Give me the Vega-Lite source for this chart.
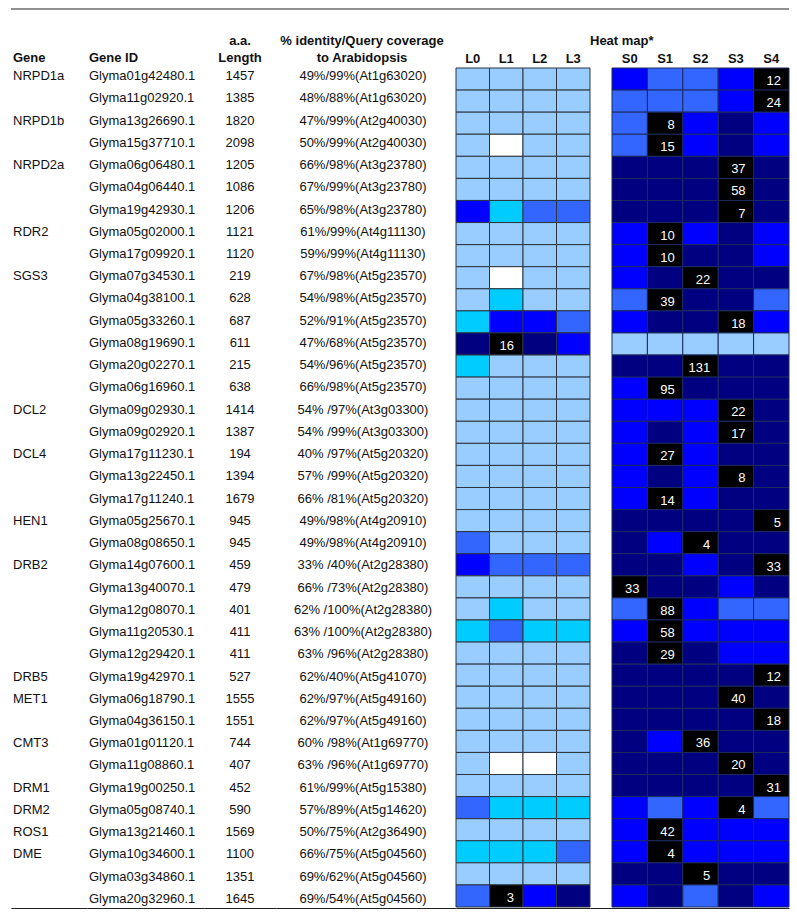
{
  "$schema": "https://vega.github.io/schema/vega-lite/v6.json",
  "padding": {"left": 10, "top": 8, "right": 9, "bottom": 0},
  "background": "white",
  "config": {
    "view": {"stroke": null},
    "font": "Liberation Sans",
    "title": {"font": "Liberation Sans", "fontSize": 13, "fontWeight": "bold", "color": "#111111", "lineHeight": 17, "offset": 3, "frame": "group"}
  },
  "datasets": {
    "genes": [
      {"row": 0, "gene": "NRPD1a", "id": "Glyma01g42480.1", "len": "1457", "ident": "49%/99%(At1g63020)"},
      {"row": 1, "gene": "", "id": "Glyma11g02920.1", "len": "1385", "ident": "48%/88%(At1g63020)"},
      {"row": 2, "gene": "NRPD1b", "id": "Glyma13g26690.1", "len": "1820", "ident": "47%/99%(At2g40030)"},
      {"row": 3, "gene": "", "id": "Glyma15g37710.1", "len": "2098", "ident": "50%/99%(At2g40030)"},
      {"row": 4, "gene": "NRPD2a", "id": "Glyma06g06480.1", "len": "1205", "ident": "66%/98%(At3g23780)"},
      {"row": 5, "gene": "", "id": "Glyma04g06440.1", "len": "1086", "ident": "67%/99%(At3g23780)"},
      {"row": 6, "gene": "", "id": "Glyma19g42930.1", "len": "1206", "ident": "65%/98%(At3g23780)"},
      {"row": 7, "gene": "RDR2", "id": "Glyma05g02000.1", "len": "1121", "ident": "61%/99%(At4g11130)"},
      {"row": 8, "gene": "", "id": "Glyma17g09920.1", "len": "1120", "ident": "59%/99%(At4g11130)"},
      {"row": 9, "gene": "SGS3", "id": "Glyma07g34530.1", "len": "219", "ident": "67%/98%(At5g23570)"},
      {"row": 10, "gene": "", "id": "Glyma04g38100.1", "len": "628", "ident": "54%/98%(At5g23570)"},
      {"row": 11, "gene": "", "id": "Glyma05g33260.1", "len": "687", "ident": "52%/91%(At5g23570)"},
      {"row": 12, "gene": "", "id": "Glyma08g19690.1", "len": "611", "ident": "47%/68%(At5g23570)"},
      {"row": 13, "gene": "", "id": "Glyma20g02270.1", "len": "215", "ident": "54%/96%(At5g23570)"},
      {"row": 14, "gene": "", "id": "Glyma06g16960.1", "len": "638", "ident": "66%/98%(At5g23570)"},
      {"row": 15, "gene": "DCL2", "id": "Glyma09g02930.1", "len": "1414", "ident": "54% /97%(At3g03300)"},
      {"row": 16, "gene": "", "id": "Glyma09g02920.1", "len": "1387", "ident": "54% /99%(At3g03300)"},
      {"row": 17, "gene": "DCL4", "id": "Glyma17g11230.1", "len": "194", "ident": "40% /97%(At5g20320)"},
      {"row": 18, "gene": "", "id": "Glyma13g22450.1", "len": "1394", "ident": "57% /99%(At5g20320)"},
      {"row": 19, "gene": "", "id": "Glyma17g11240.1", "len": "1679", "ident": "66% /81%(At5g20320)"},
      {"row": 20, "gene": "HEN1", "id": "Glyma05g25670.1", "len": "945", "ident": "49%/98%(At4g20910)"},
      {"row": 21, "gene": "", "id": "Glyma08g08650.1", "len": "945", "ident": "49%/98%(At4g20910)"},
      {"row": 22, "gene": "DRB2", "id": "Glyma14g07600.1", "len": "459", "ident": "33% /40%(At2g28380)"},
      {"row": 23, "gene": "", "id": "Glyma13g40070.1", "len": "479", "ident": "66% /73%(At2g28380)"},
      {"row": 24, "gene": "", "id": "Glyma12g08070.1", "len": "401", "ident": "62% /100%(At2g28380)"},
      {"row": 25, "gene": "", "id": "Glyma11g20530.1", "len": "411", "ident": "63% /100%(At2g28380)"},
      {"row": 26, "gene": "", "id": "Glyma12g29420.1", "len": "411", "ident": "63% /96%(At2g28380)"},
      {"row": 27, "gene": "DRB5", "id": "Glyma19g42970.1", "len": "527", "ident": "62%/40%(At5g41070)"},
      {"row": 28, "gene": "MET1", "id": "Glyma06g18790.1", "len": "1555", "ident": "62%/97%(At5g49160)"},
      {"row": 29, "gene": "", "id": "Glyma04g36150.1", "len": "1551", "ident": "62%/97%(At5g49160)"},
      {"row": 30, "gene": "CMT3", "id": "Glyma01g01120.1", "len": "744", "ident": "60% /98%(At1g69770)"},
      {"row": 31, "gene": "", "id": "Glyma11g08860.1", "len": "407", "ident": "63% /96%(At1g69770)"},
      {"row": 32, "gene": "DRM1", "id": "Glyma19g00250.1", "len": "452", "ident": "61%/99%(At5g15380)"},
      {"row": 33, "gene": "DRM2", "id": "Glyma05g08740.1", "len": "590", "ident": "57%/89%(At5g14620)"},
      {"row": 34, "gene": "ROS1", "id": "Glyma13g21460.1", "len": "1569", "ident": "50%/75%(At2g36490)"},
      {"row": 35, "gene": "DME", "id": "Glyma10g34600.1", "len": "1100", "ident": "66%/75%(At5g04560)"},
      {"row": 36, "gene": "", "id": "Glyma03g34860.1", "len": "1351", "ident": "69%/62%(At5g04560)"},
      {"row": 37, "gene": "", "id": "Glyma20g32960.1", "len": "1645", "ident": "69%/54%(At5g04560)"}
    ],
    "heatL": [
      {"row": 0, "L0": 1, "L1": 1, "L2": 1, "L3": 1},
      {"row": 1, "L0": 1, "L1": 1, "L2": 1, "L3": 1},
      {"row": 2, "L0": 1, "L1": 1, "L2": 1, "L3": 1},
      {"row": 3, "L0": 1, "L1": 0, "L2": 1, "L3": 1},
      {"row": 4, "L0": 1, "L1": 1, "L2": 1, "L3": 1},
      {"row": 5, "L0": 1, "L1": 1, "L2": 1, "L3": 1},
      {"row": 6, "L0": 4, "L1": 2, "L2": 3, "L3": 3},
      {"row": 7, "L0": 1, "L1": 1, "L2": 1, "L3": 1},
      {"row": 8, "L0": 1, "L1": 1, "L2": 1, "L3": 1},
      {"row": 9, "L0": 1, "L1": 0, "L2": 1, "L3": 1},
      {"row": 10, "L0": 1, "L1": 2, "L2": 1, "L3": 1},
      {"row": 11, "L0": 2, "L1": 4, "L2": 4, "L3": 3},
      {"row": 12, "L0": 5, "L1": 6, "L2": 5, "L3": 4},
      {"row": 13, "L0": 2, "L1": 1, "L2": 1, "L3": 1},
      {"row": 14, "L0": 1, "L1": 1, "L2": 1, "L3": 1},
      {"row": 15, "L0": 1, "L1": 1, "L2": 1, "L3": 1},
      {"row": 16, "L0": 1, "L1": 1, "L2": 1, "L3": 1},
      {"row": 17, "L0": 1, "L1": 1, "L2": 1, "L3": 1},
      {"row": 18, "L0": 1, "L1": 1, "L2": 1, "L3": 1},
      {"row": 19, "L0": 1, "L1": 1, "L2": 1, "L3": 1},
      {"row": 20, "L0": 1, "L1": 1, "L2": 1, "L3": 1},
      {"row": 21, "L0": 3, "L1": 1, "L2": 1, "L3": 1},
      {"row": 22, "L0": 4, "L1": 3, "L2": 3, "L3": 3},
      {"row": 23, "L0": 1, "L1": 1, "L2": 1, "L3": 1},
      {"row": 24, "L0": 1, "L1": 2, "L2": 1, "L3": 1},
      {"row": 25, "L0": 2, "L1": 3, "L2": 2, "L3": 2},
      {"row": 26, "L0": 1, "L1": 1, "L2": 1, "L3": 1},
      {"row": 27, "L0": 1, "L1": 1, "L2": 1, "L3": 1},
      {"row": 28, "L0": 1, "L1": 1, "L2": 1, "L3": 1},
      {"row": 29, "L0": 1, "L1": 1, "L2": 1, "L3": 1},
      {"row": 30, "L0": 1, "L1": 1, "L2": 1, "L3": 1},
      {"row": 31, "L0": 1, "L1": 0, "L2": 0, "L3": 1},
      {"row": 32, "L0": 1, "L1": 1, "L2": 1, "L3": 1},
      {"row": 33, "L0": 3, "L1": 2, "L2": 2, "L3": 2},
      {"row": 34, "L0": 1, "L1": 1, "L2": 1, "L3": 1},
      {"row": 35, "L0": 2, "L1": 2, "L2": 2, "L3": 3},
      {"row": 36, "L0": 1, "L1": 1, "L2": 1, "L3": 1},
      {"row": 37, "L0": 3, "L1": 6, "L2": 4, "L3": 5}
    ],
    "heatS": [
      {"row": 0, "S0": 4, "S1": 3, "S2": 3, "S3": 4, "S4": 6},
      {"row": 1, "S0": 3, "S1": 3, "S2": 3, "S3": 4, "S4": 6},
      {"row": 2, "S0": 3, "S1": 6, "S2": 4, "S3": 5, "S4": 4},
      {"row": 3, "S0": 3, "S1": 6, "S2": 4, "S3": 5, "S4": 4},
      {"row": 4, "S0": 5, "S1": 5, "S2": 5, "S3": 6, "S4": 5},
      {"row": 5, "S0": 5, "S1": 5, "S2": 5, "S3": 6, "S4": 5},
      {"row": 6, "S0": 5, "S1": 5, "S2": 5, "S3": 6, "S4": 5},
      {"row": 7, "S0": 4, "S1": 6, "S2": 4, "S3": 5, "S4": 4},
      {"row": 8, "S0": 4, "S1": 6, "S2": 5, "S3": 5, "S4": 4},
      {"row": 9, "S0": 4, "S1": 5, "S2": 6, "S3": 5, "S4": 5},
      {"row": 10, "S0": 3, "S1": 6, "S2": 5, "S3": 5, "S4": 3},
      {"row": 11, "S0": 4, "S1": 5, "S2": 5, "S3": 6, "S4": 4},
      {"row": 12, "S0": 1, "S1": 1, "S2": 1, "S3": 1, "S4": 1},
      {"row": 13, "S0": 5, "S1": 5, "S2": 6, "S3": 5, "S4": 5},
      {"row": 14, "S0": 4, "S1": 6, "S2": 5, "S3": 5, "S4": 5},
      {"row": 15, "S0": 4, "S1": 4, "S2": 4, "S3": 6, "S4": 5},
      {"row": 16, "S0": 4, "S1": 5, "S2": 4, "S3": 6, "S4": 5},
      {"row": 17, "S0": 4, "S1": 6, "S2": 4, "S3": 5, "S4": 5},
      {"row": 18, "S0": 4, "S1": 5, "S2": 4, "S3": 6, "S4": 5},
      {"row": 19, "S0": 4, "S1": 6, "S2": 4, "S3": 5, "S4": 5},
      {"row": 20, "S0": 5, "S1": 5, "S2": 5, "S3": 5, "S4": 6},
      {"row": 21, "S0": 5, "S1": 4, "S2": 6, "S3": 5, "S4": 5},
      {"row": 22, "S0": 5, "S1": 5, "S2": 4, "S3": 5, "S4": 6},
      {"row": 23, "S0": 6, "S1": 5, "S2": 5, "S3": 4, "S4": 5},
      {"row": 24, "S0": 3, "S1": 6, "S2": 4, "S3": 3, "S4": 3},
      {"row": 25, "S0": 4, "S1": 6, "S2": 4, "S3": 4, "S4": 4},
      {"row": 26, "S0": 5, "S1": 6, "S2": 5, "S3": 4, "S4": 4},
      {"row": 27, "S0": 5, "S1": 5, "S2": 5, "S3": 5, "S4": 6},
      {"row": 28, "S0": 5, "S1": 5, "S2": 5, "S3": 6, "S4": 5},
      {"row": 29, "S0": 5, "S1": 5, "S2": 5, "S3": 5, "S4": 6},
      {"row": 30, "S0": 5, "S1": 4, "S2": 6, "S3": 5, "S4": 5},
      {"row": 31, "S0": 5, "S1": 5, "S2": 5, "S3": 6, "S4": 5},
      {"row": 32, "S0": 5, "S1": 5, "S2": 5, "S3": 5, "S4": 6},
      {"row": 33, "S0": 4, "S1": 3, "S2": 4, "S3": 6, "S4": 3},
      {"row": 34, "S0": 4, "S1": 6, "S2": 4, "S3": 4, "S4": 4},
      {"row": 35, "S0": 4, "S1": 6, "S2": 4, "S3": 4, "S4": 4},
      {"row": 36, "S0": 5, "S1": 5, "S2": 6, "S3": 5, "S4": 5},
      {"row": 37, "S0": 4, "S1": 5, "S2": 3, "S3": 5, "S4": 4}
    ],
    "numsL": [
      {"row": 12, "col": "L1", "n": "16"},
      {"row": 37, "col": "L1", "n": "3"}
    ],
    "numsS": [
      {"row": 0, "col": "S4", "n": "12"},
      {"row": 1, "col": "S4", "n": "24"},
      {"row": 2, "col": "S1", "n": "8"},
      {"row": 3, "col": "S1", "n": "15"},
      {"row": 4, "col": "S3", "n": "37"},
      {"row": 5, "col": "S3", "n": "58"},
      {"row": 6, "col": "S3", "n": "7"},
      {"row": 7, "col": "S1", "n": "10"},
      {"row": 8, "col": "S1", "n": "10"},
      {"row": 9, "col": "S2", "n": "22"},
      {"row": 10, "col": "S1", "n": "39"},
      {"row": 11, "col": "S3", "n": "18"},
      {"row": 13, "col": "S2", "n": "131"},
      {"row": 14, "col": "S1", "n": "95"},
      {"row": 15, "col": "S3", "n": "22"},
      {"row": 16, "col": "S3", "n": "17"},
      {"row": 17, "col": "S1", "n": "27"},
      {"row": 18, "col": "S3", "n": "8"},
      {"row": 19, "col": "S1", "n": "14"},
      {"row": 20, "col": "S4", "n": "5"},
      {"row": 21, "col": "S2", "n": "4"},
      {"row": 22, "col": "S4", "n": "33"},
      {"row": 23, "col": "S0", "n": "33"},
      {"row": 24, "col": "S1", "n": "88"},
      {"row": 25, "col": "S1", "n": "58"},
      {"row": 26, "col": "S1", "n": "29"},
      {"row": 27, "col": "S4", "n": "12"},
      {"row": 28, "col": "S3", "n": "40"},
      {"row": 29, "col": "S4", "n": "18"},
      {"row": 30, "col": "S2", "n": "36"},
      {"row": 31, "col": "S3", "n": "20"},
      {"row": 32, "col": "S4", "n": "31"},
      {"row": 33, "col": "S3", "n": "4"},
      {"row": 34, "col": "S1", "n": "42"},
      {"row": 35, "col": "S1", "n": "4"},
      {"row": 36, "col": "S2", "n": "5"}
    ]
  },
  "spacing": 25,
  "vconcat": [
    {
      "width": 778,
      "height": 1,
      "data": {"values": [{}]},
      "mark": {"type": "rule", "color": "#222222", "strokeWidth": 1},
      "encoding": {
        "y": {"datum": 1, "type": "quantitative", "scale": {"domain": [0, 1]}, "axis": null}
      }
    },
    {
      "hconcat": [
        {
          "width": 76,
          "height": 845,
          "data": {"name": "genes"},
          "title": {"text": "Gene", "anchor": "start", "dx": 2},
          "mark": {"type": "text", "align": "left", "baseline": "middle", "dx": 2, "dy": -3, "fontSize": 13, "color": "#111111"},
          "encoding": {
            "y": {"field": "row", "type": "ordinal", "axis": null, "scale": {"type": "band", "paddingInner": 0, "paddingOuter": 0}},
            "x": {"datum": "Gene", "type": "nominal", "bandPosition": 0, "scale": {"type": "band", "paddingInner": 0, "paddingOuter": 0},
                  "axis": {"orient": "bottom", "labels": false, "ticks": false, "domain": true, "domainColor": "#222222", "domainWidth": 1, "offset": -5, "title": null}},
            "text": {"field": "gene", "type": "nominal"}
          }
        },
        {
          "width": 117,
          "height": 845,
          "data": {"name": "genes"},
          "title": {"text": "Gene ID", "anchor": "start", "dx": 2},
          "mark": {"type": "text", "align": "left", "baseline": "middle", "dx": 2, "dy": -3, "fontSize": 13, "color": "#111111"},
          "encoding": {
            "y": {"field": "row", "type": "ordinal", "axis": null, "scale": {"type": "band", "paddingInner": 0, "paddingOuter": 0}},
            "x": {"datum": "Gene ID", "type": "nominal", "bandPosition": 0, "scale": {"type": "band", "paddingInner": 0, "paddingOuter": 0},
                  "axis": {"orient": "bottom", "labels": false, "ticks": false, "domain": true, "domainColor": "#222222", "domainWidth": 1, "offset": -5, "title": null}},
            "text": {"field": "id", "type": "nominal"}
          }
        },
        {
          "width": 72,
          "height": 845,
          "data": {"name": "genes"},
          "title": {"text": ["a.a.", "Length"], "anchor": "middle"},
          "mark": {"type": "text", "align": "center", "baseline": "middle", "dy": -3, "fontSize": 13, "color": "#111111"},
          "encoding": {
            "y": {"field": "row", "type": "ordinal", "axis": null, "scale": {"type": "band", "paddingInner": 0, "paddingOuter": 0}},
            "x": {"datum": "Length", "type": "nominal", "bandPosition": 0.5, "scale": {"type": "band", "paddingInner": 0, "paddingOuter": 0},
                  "axis": {"orient": "bottom", "labels": false, "ticks": false, "domain": true, "domainColor": "#222222", "domainWidth": 1, "offset": -5, "title": null}},
            "text": {"field": "len", "type": "nominal"}
          }
        },
        {
          "width": 180,
          "height": 845,
          "data": {"name": "genes"},
          "title": {"text": ["% identity/Query coverage", "to Arabidopsis"], "anchor": "middle", "dx": -4},
          "mark": {"type": "text", "align": "center", "baseline": "middle", "dx": -3, "dy": -3, "fontSize": 13, "color": "#111111"},
          "encoding": {
            "y": {"field": "row", "type": "ordinal", "axis": null, "scale": {"type": "band", "paddingInner": 0, "paddingOuter": 0}},
            "x": {"datum": "Identity", "type": "nominal", "bandPosition": 0.5, "scale": {"type": "band", "paddingInner": 0, "paddingOuter": 0},
                  "axis": {"orient": "bottom", "labels": false, "ticks": false, "domain": true, "domainColor": "#222222", "domainWidth": 1, "offset": -5, "title": null}},
            "text": {"field": "ident", "type": "nominal"}
          }
        },
        {
          "width": 134,
          "height": 839,
          "layer": [
            {
              "data": {"name": "heatL"},
              "transform": [{"fold": ["L0", "L1", "L2", "L3"], "as": ["col", "lv"]}],
              "mark": {"type": "rect", "stroke": "#2b3540", "strokeWidth": 1},
              "encoding": {
                "x": {"field": "col", "type": "nominal", "scale": {"type": "band", "domain": ["L0", "L1", "L2", "L3"], "paddingInner": 0, "paddingOuter": 0},
                      "axis": {"orient": "top", "title": null, "ticks": false, "tickSize": 0, "domain": false, "labelAngle": 0, "labelFont": "Liberation Sans", "labelFontSize": 13, "labelFontWeight": "bold", "labelColor": "#111111", "labelPadding": 3}},
                "y": {"field": "row", "type": "ordinal", "axis": null, "scale": {"type": "band", "domain": [0,1,2,3,4,5,6,7,8,9,10,11,12,13,14,15,16,17,18,19,20,21,22,23,24,25,26,27,28,29,30,31,32,33,34,35,36,37], "paddingInner": 0, "paddingOuter": 0}},
                "color": {"field": "lv", "type": "ordinal", "legend": null,
                          "scale": {"domain": [0, 1, 2, 3, 4, 5, 6], "range": ["#ffffff", "#99ccff", "#00ccff", "#3366ff", "#0000ff", "#000080", "#000000"]}}
              }
            },
            {
              "data": {"name": "numsL"},
              "mark": {"type": "text", "align": "right", "baseline": "middle", "dx": -9, "dy": 2, "fontSize": 13, "color": "#ffffff"},
              "encoding": {
                "x": {"field": "col", "type": "nominal", "bandPosition": 1, "scale": {"type": "band"},
                      "axis": {"orient": "bottom", "labels": false, "ticks": false, "domain": true, "domainColor": "#222222", "domainWidth": 1, "offset": 1, "title": null}},
                "y": {"field": "row", "type": "ordinal", "scale": {"type": "band"}, "axis": null},
                "text": {"field": "n", "type": "nominal"}
              }
            }
          ],
          "resolve": {"axis": {"x": "independent"}}
        },
        {
          "width": 199,
          "height": 839,
          "title": {"text": "Heat map*", "anchor": "start", "offset": 4},
          "layer": [
            {
              "data": {"name": "heatS"},
              "transform": [{"fold": ["S0", "S1", "S2", "S3", "S4"], "as": ["col", "lv"]}],
              "mark": {"type": "rect", "stroke": "#1c2a5e", "strokeWidth": 1},
              "encoding": {
                "x": {"field": "col", "type": "nominal", "scale": {"type": "band", "domain": ["S0", "S1", "S2", "S3", "S4"], "paddingInner": 0, "paddingOuter": 0.3107, "align": 1},
                      "axis": {"orient": "top", "title": null, "ticks": false, "tickSize": 0, "domain": false, "labelAngle": 0, "labelFont": "Liberation Sans", "labelFontSize": 13, "labelFontWeight": "bold", "labelColor": "#111111", "labelPadding": 3}},
                "y": {"field": "row", "type": "ordinal", "axis": null, "scale": {"type": "band", "domain": [0,1,2,3,4,5,6,7,8,9,10,11,12,13,14,15,16,17,18,19,20,21,22,23,24,25,26,27,28,29,30,31,32,33,34,35,36,37], "paddingInner": 0, "paddingOuter": 0}},
                "color": {"field": "lv", "type": "ordinal", "legend": null,
                          "scale": {"domain": [0, 1, 2, 3, 4, 5, 6], "range": ["#ffffff", "#99ccff", "#00ccff", "#3366ff", "#0000ff", "#000080", "#000000"]}}
              }
            },
            {
              "data": {"name": "numsS"},
              "mark": {"type": "text", "align": "right", "baseline": "middle", "dx": -8, "dy": 2, "fontSize": 13, "color": "#ffffff"},
              "encoding": {
                "x": {"field": "col", "type": "nominal", "bandPosition": 1, "scale": {"type": "band"},
                      "axis": {"orient": "bottom", "labels": false, "ticks": false, "domain": true, "domainColor": "#222222", "domainWidth": 1, "offset": 1, "title": null}},
                "y": {"field": "row", "type": "ordinal", "scale": {"type": "band"}, "axis": null},
                "text": {"field": "n", "type": "nominal"}
              }
            }
          ],
          "resolve": {"axis": {"x": "independent"}}
        }
      ],
      "spacing": 0,
      "bounds": "flush"
    }
  ]
}
